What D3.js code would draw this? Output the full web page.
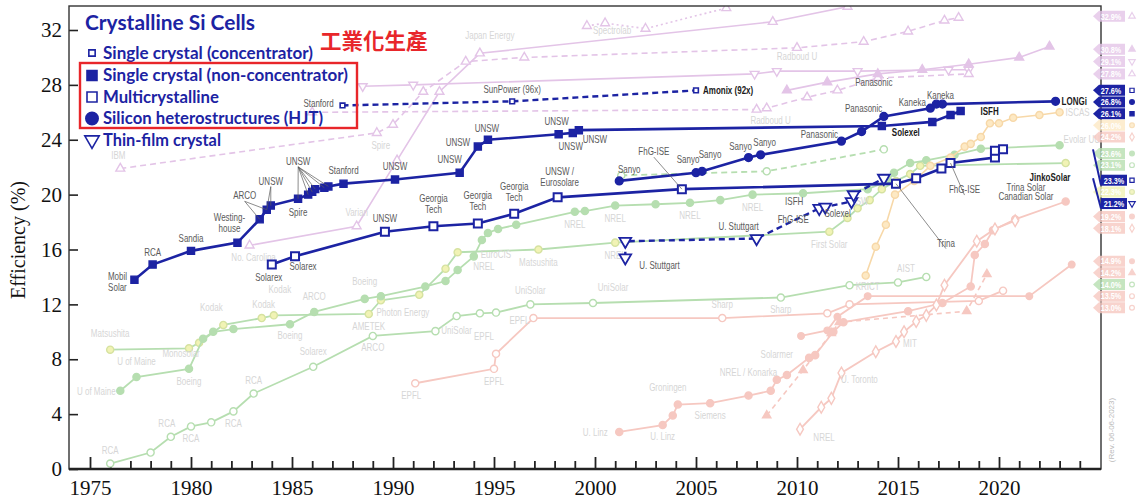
<!DOCTYPE html>
<html>
<head>
<meta charset="utf-8">
<script src="https://cdn.jsdelivr.net/npm/d3@7"></script>
<style>
  body { margin: 0; background: #fff; }
  svg { display: block; }
</style>
</head>
<body>
<svg id="chart" width="1137" height="503"></svg>
<script>
// ---------- data ----------
const yTicks = [0, 4, 8, 12, 16, 20, 24, 28, 32];
const yearTicks = d3.range(1975, 2025);
const yearLabels = [1975, 1980, 1985, 1990, 1995, 2000, 2005, 2010, 2015, 2020];

// crystalline Si, highlighted
const scConcYears = [1987.5, 1995.9, 2005.0];
const scConcEff = [26.5, 26.8, 27.6];
const scYears = [1977.2, 1978.1, 1980.0, 1982.3, 1983.4, 1983.75, 1983.95, 1985.3, 1985.8, 1986.0, 1986.15, 1986.6, 1986.8, 1987.55, 1990.1, 1993.3, 1994.2, 1994.7, 1998.2, 1998.9, 1999.2, 2014.2, 2016.7, 2017.6, 2018.1];
const scEff = [13.8, 14.9, 15.9, 16.5, 18.2, 18.9, 19.2, 19.7, 20.0, 20.2, 20.4, 20.5, 20.6, 20.8, 21.1, 21.6, 23.5, 24.0, 24.4, 24.5, 24.7, 25.0, 25.3, 25.8, 26.1];
const mcYears = [1984.0, 1985.15, 1989.6, 1992.0, 1994.2, 1996.0, 1998.15, 2004.3, 2014.9, 2015.9, 2017.15, 2017.6, 2019.8, 2019.8, 2020.2];
const mcEff = [14.9, 15.5, 17.3, 17.7, 17.9, 18.6, 19.8, 20.4, 20.8, 21.2, 21.9, 22.3, 22.7, 23.2, 23.3];
const hjtYears = [2001.2, 2005.0, 2005.3, 2007.6, 2008.2, 2012.2, 2013.2, 2014.3, 2016.6, 2016.9, 2017.2, 2022.8];
const hjtEff = [21.0, 21.6, 21.7, 22.7, 22.9, 23.9, 24.6, 25.7, 26.3, 26.6, 26.6, 26.8];
const tfYears = [2001.5, 2001.5, 2008.0, 2011.1, 2011.4, 2012.7, 2012.8, 2014.3];
const tfEff = [15.4, 16.6, 16.8, 19.0, 19.1, 19.5, 20.0, 21.2];

// faded background technologies
const aSiYears = [1976, 1978, 1979, 1980, 1981, 1982.1, 1983.1, 1986.05, 1989, 1992.1, 1993.15, 1994.3, 1995.1, 1996.8, 1999.9, 2009.2, 2012.6, 2015, 2016.4];
const aSiEff = [0.4, 1.2, 2.35, 3.1, 3.4, 4.2, 5.5, 7.45, 9.7, 10.05, 11.15, 11.35, 11.4, 12.0, 12.1, 12.5, 13.4, 13.6, 14.0];
const cigsYears = [1976.5, 1977.3, 1979.9, 1980.6, 1981.1, 1982.1, 1984.9, 1986.1, 1988.6, 1989.4, 1991.6, 1992.6, 1993.2, 1994.0, 1994.4, 1994.7, 1995.2, 1996.1, 1999.0, 1999.5, 2001.0, 2003.0, 2004.7, 2006.2, 2007.8, 2010.3, 2013.5, 2014.5, 2014.8, 2015.6, 2016.4, 2017.8, 2019.1, 2023.0];
const cigsEff = [5.7, 6.7, 7.3, 9.5, 10.0, 10.2, 10.55, 11.45, 12.4, 12.6, 13.3, 13.7, 14.5, 15.5, 16.7, 17.2, 17.5, 17.8, 18.75, 18.8, 19.2, 19.3, 19.4, 19.6, 20.0, 20.1, 20.4, 21.0, 21.6, 22.3, 22.5, 22.9, 23.35, 23.6];
const cdteYears = [1976, 1979.9, 1980.4, 1981.6, 1983.5, 1984.1, 1988.8, 1989.4, 1991.3, 1992.6, 1993.2, 1997.2, 2001.0, 2011.6, 2012.5, 2013.0, 2013.6, 2014.2, 2014.9, 2015.6, 2016.1, 2023.3];
const cdteEff = [8.7, 8.8, 9.2, 10.5, 11.0, 11.2, 11.3, 12.3, 12.7, 14.6, 15.8, 16.0, 16.5, 17.3, 18.3, 19.0, 19.6, 20.4, 21.0, 21.5, 22.1, 22.3];
const cigsConcYears = [2001.3, 2008.5, 2014.3];
const cigsConcEff = [21.4, 21.7, 23.3];
const perovYears = [2013.4, 2013.9, 2014.4, 2014.85, 2015.8, 2016.6, 2017.6, 2018.3, 2018.6, 2019.1, 2019.55, 2020.0, 2020.7, 2022.0, 2023.0];
const perovEff = [14.1, 16.2, 17.8, 20.0, 21.0, 22.1, 22.7, 23.5, 23.7, 24.2, 25.2, 25.2, 25.6, 25.8, 26.0];
const organicYears = [2001.2, 2003.35, 2003.85, 2004.1, 2005.7, 2007.6, 2008.7, 2009.0, 2009.5, 2010.6, 2010.9, 2011.8, 2012.3, 2015.5, 2017.2, 2018.6, 2018.8, 2019.3, 2019.7, 2020.8, 2023.3];
const organicEff = [2.7, 3.2, 3.9, 4.7, 4.8, 5.35, 5.7, 6.5, 6.85, 8.1, 8.3, 10.0, 10.7, 11.5, 12.1, 13.3, 15.6, 16.4, 17.4, 18.2, 19.5];
const qdYears = [2010.15, 2011.2, 2011.7, 2012.2, 2013.9, 2014.9, 2015.3, 2015.9, 2016.4, 2016.9, 2017.3, 2018.9, 2019.8, 2020.8];
const qdEff = [2.9, 4.5, 5.15, 7.0, 8.55, 9.3, 10.0, 10.75, 11.2, 11.95, 13.4, 16.6, 17.5, 18.1];
const dsscYears = [1991.1, 1995.0, 1995.1, 1996.95, 2006.3, 2011.5, 2012.6, 2019.0, 2020.2];
const dsscEff = [6.25, 7.3, 8.4, 11.0, 11.0, 11.35, 12.0, 12.25, 13.0];
const cztsYears = [2010.2, 2011.5, 2012.0, 2013.5, 2021.5, 2023.6];
const cztsEff = [9.7, 10.1, 11.1, 12.6, 12.6, 14.9];
const tandemOrgYears = [2008.5, 2010.3, 2011.7, 2012.1, 2018.4, 2019.4];
const tandemOrgEff = [3.9, 7.2, 9.9, 10.7, 11.5, 14.2];
const v1Years = [1982.9, 1988.2, 1990.2, 1992.3, 1994.3, 2008.8, 2012.5];
const v1Eff = [16.3, 17.7, 22.5, 27.5, 30.3, 32.6, 33.7];
const v2Years = [1976.5, 1989.2, 1990.0, 1991.5, 1993.6, 1996.5, 2010.0, 2013.3, 2015.5, 2017.3, 2018.0];
const v2Eff = [21.9, 24.5, 25.1, 27.5, 29.7, 30.0, 30.7, 31.15, 31.9, 32.7, 32.9];
const v3Years = [1988.5, 1991.0, 2007.9, 2009.0, 2013.0, 2017.5, 2018.5];
const v3Eff = [27.9, 28.0, 28.8, 29.0, 29.0, 29.1, 29.1];
const v4Years = [1986.0, 2008.0, 2008.5, 2010.5, 2012.0, 2014.0, 2018.5];
const v4Eff = [26.0, 26.2, 26.3, 27.1, 27.6, 28.5, 28.8];
const v5Years = [2009.5, 2011.5, 2014.0, 2016.2, 2018.5, 2021.0, 2022.5];
const v5Eff = [27.6, 28.2, 28.8, 29.1, 29.5, 30.0, 30.8];
const v6Years = [1999.6, 2000.5, 2002.5, 2006.5];
const v6Eff = [32.3, 32.5, 32.1, 33.6];

// right-hand record flags; slot = stacked position on the efficiency scale
const flagTexts = ["32.9%", "30.8%", "29.1%", "27.8%", "27.6%", "26.8%", "26.1%", "26.0%", "24.2%", "23.6%", "23.1%", "23.3%", "22.3%", "21.2%", "19.2%", "18.1%", "14.9%", "14.2%", "14.0%", "13.5%", "13.0%"];
const flagValues = [32.9, 30.8, 29.1, 27.8, 27.6, 26.8, 26.1, 26.0, 24.2, 23.6, 23.1, 23.3, 22.3, 21.2, 19.2, 18.1, 14.9, 14.2, 14.0, 13.5, 13.0];
const flagSlots = [33.0, 30.6, 29.7, 28.8, 27.6, 26.75, 25.9, 25.05, 24.2, 23.0, 22.15, 21.05, 20.2, 19.35, 18.4, 17.55, 15.15, 14.3, 13.45, 12.6, 11.75];
const flagKeys = ["v2", "v5", "v3", "v4", "conc", "hjt", "sc", "perov", "qd", "cigs", "cigsConc", "mc", "cdte", "tf", "organic", "qd", "czts", "tandemOrg", "aSi", "dssc", "dssc"];

// ---------- layout ----------
const blue = "#1c23a3";
const violet = "#e3c4e7", green = "#b6deb0", yellowF = "#f1f3b5", yellowS = "#d6e2a0";
const salmon = "#f6c8c1", orange = "#f7d8a8", orangeF = "#fde9c4";
const plot = { left: 69, right: 1101, top: 6, bottom: 469 };

const svg = d3.select("#chart");
const x = d3.scaleLinear().domain([1975, 2020]).range([90, 999]);
const y = d3.scaleLinear().domain([0, 32]).range([469, 30]);

svg.append("defs").append("clipPath").attr("id", "clip")
  .append("rect").attr("x", plot.left).attr("y", plot.top)
  .attr("width", plot.right - plot.left).attr("height", plot.bottom - plot.top);

const mk = (years, eff, o) => Object.assign({ years, eff }, o);
const series = {
  v1: mk(v1Years, v1Eff, { color: violet, sym: d3.symbolTriangle, size: 34, fill: "#fff", w: 1.6 }),
  v2: mk(v2Years, v2Eff, { color: violet, sym: d3.symbolTriangle, size: 34, fill: "#fff", w: 1.6, dash: "6,4" }),
  v3: mk(v3Years, v3Eff, { color: violet, sym: d3.symbolTriangle, rot: 180, size: 34, fill: "#fff", w: 1.6 }),
  v4: mk(v4Years, v4Eff, { color: violet, sym: d3.symbolTriangle, size: 34, fill: "#fff", w: 1.6, dash: "6,4" }),
  v5: mk(v5Years, v5Eff, { color: violet, sym: d3.symbolTriangle, size: 34, fill: violet, w: 1.6 }),
  v6: mk(v6Years, v6Eff, { color: violet, sym: d3.symbolTriangle, size: 34, fill: "#fff", w: 1.6, dash: "2,3" }),
  aSi: mk(aSiYears, aSiEff, { color: green, sym: d3.symbolCircle, size: 40, fill: "#fff", w: 1.8 }),
  cigs: mk(cigsYears, cigsEff, { color: green, sym: d3.symbolCircle, size: 40, fill: green, w: 1.8 }),
  cdte: mk(cdteYears, cdteEff, { color: yellowS, sym: d3.symbolCircle, size: 40, fill: yellowF, w: 1.8, line: green }),
  cigsConc: mk(cigsConcYears, cigsConcEff, { color: green, sym: d3.symbolCircle, size: 40, fill: "#fff", w: 1.8, dash: "6,4" }),
  perov: mk(perovYears, perovEff, { color: orange, sym: d3.symbolCircle, size: 40, fill: orangeF, w: 1.6 }),
  organic: mk(organicYears, organicEff, { color: salmon, sym: d3.symbolCircle, size: 40, fill: salmon, w: 1.8 }),
  qd: mk(qdYears, qdEff, { color: salmon, sym: d3.symbolDiamond, size: 40, fill: "#fff", w: 1.8 }),
  dssc: mk(dsscYears, dsscEff, { color: salmon, sym: d3.symbolCircle, size: 40, fill: "#fff", w: 1.8 }),
  czts: mk(cztsYears, cztsEff, { color: salmon, sym: d3.symbolCircle, size: 34, fill: salmon, w: 1.8 }),
  tandemOrg: mk(tandemOrgYears, tandemOrgEff, { color: salmon, sym: d3.symbolTriangle, size: 30, fill: salmon, w: 1.6, dash: "5,4" }),
  conc: mk(scConcYears, scConcEff, { color: blue, sym: d3.symbolSquare, size: 22, fill: "#fff", w: 2.4, mw: 1.6, dash: "6,4" }),
  tf: mk(tfYears, tfEff, { color: blue, sym: d3.symbolTriangle, rot: 180, size: 60, fill: "#fff", w: 2.4, mw: 1.8, dash: "6,4" }),
  mc: mk(mcYears, mcEff, { color: blue, sym: d3.symbolSquare, size: 64, fill: "#fff", w: 2.6, mw: 2 }),
  hjt: mk(hjtYears, hjtEff, { color: blue, sym: d3.symbolCircle, size: 48, fill: blue, w: 2.6 }),
  sc: mk(scYears, scEff, { color: blue, sym: d3.symbolSquare, size: 50, fill: blue, w: 2.6 })
};

// ---------- axes & frame ----------
const gx = svg.append("g").attr("transform", `translate(0,${plot.bottom})`);
gx.call(d3.axisBottom(x).tickValues(yearTicks.filter(t => t % 5)).tickSize(-8).tickFormat(""));
gx.call(g => g.select(".domain").remove());
const gx2 = svg.append("g").attr("transform", `translate(0,${plot.bottom})`)
  .call(d3.axisBottom(x).tickValues(yearTicks.filter(t => t % 5 === 0)).tickSize(-12).tickPadding(11)
    .tickFormat(d => yearLabels.includes(d) ? d : ""));
gx2.select(".domain").remove();
svg.selectAll("g.tick line").attr("stroke", "#222").attr("stroke-width", 1.8);

const gy = svg.append("g").attr("transform", `translate(${plot.left},0)`)
  .call(d3.axisLeft(y).tickValues(yTicks).tickSize(-9).tickPadding(7));
gy.select(".domain").remove();
gy.selectAll("line").attr("stroke", "#222").attr("stroke-width", 1.6);

svg.selectAll("g.tick text").attr("font-family", "'Liberation Serif', 'DejaVu Serif', serif")
  .attr("font-size", 21).attr("fill", "#111");

svg.append("text").attr("transform", "translate(25,240) rotate(-90)")
  .attr("text-anchor", "middle").attr("font-family", "'Liberation Serif', serif")
  .attr("font-size", 20).attr("fill", "#111").text("Efficiency (%)");

// ---------- series ----------
const plotG = svg.append("g").attr("clip-path", "url(#clip)");
const line = d3.line().x(d => x(d[0])).y(d => y(d[1]));

function drawSeries(s) {
  const pts = s.years.map((yr, i) => [yr, s.eff[i]]);
  plotG.append("path").attr("d", line(pts)).attr("fill", "none")
    .attr("stroke", s.line || s.color).attr("stroke-width", s.w)
    .attr("stroke-dasharray", s.dash || null);
  plotG.append("g").selectAll("path").data(pts).join("path")
    .attr("transform", d => `translate(${x(d[0])},${y(d[1])}) rotate(${s.rot || 0})`)
    .attr("d", d3.symbol(s.sym, s.size)())
    .attr("fill", s.fill).attr("stroke", s.color).attr("stroke-width", s.mw || 1.4);
}

// condensed look: labels are squeezed horizontally
const labelFont = "'Liberation Sans', Arial, sans-serif";
function annotate(s, notes, color) {
  const g = plotG.append("g").attr("font-family", labelFont).attr("font-size", 10).attr("fill", color);
  notes.forEach(([i, text, dx, dy, anchor, leaders, dark]) => {
    const px = x(s.years[i]), py = y(s.eff[i]);
    (leaders || []).forEach(j => {
      g.append("line").attr("x1", px + dx).attr("y1", py + dy + 2)
        .attr("x2", x(s.years[j])).attr("y2", y(s.eff[j]))
        .attr("stroke", color).attr("stroke-width", 0.7);
    });
    const t = g.append("text").attr("text-anchor", anchor || "middle")
      .attr("transform", `translate(${px + dx},${py + dy}) scale(0.8,1)`)
      .attr("fill", dark ? "#1a1a1a" : color).attr("font-weight", dark ? "bold" : null);
    text.split("|").forEach((ln, k) => {
      t.append("tspan").attr("x", 0).attr("y", k * 11).text(ln);
    });
  });
}

const bgOrder = ["v6", "v1", "v2", "v3", "v4", "v5", "dssc", "czts", "tandemOrg", "organic", "qd", "aSi", "cdte", "cigs", "cigsConc", "perov"];
bgOrder.forEach(k => drawSeries(series[k]));

const faded = "#d6d6d6";
annotate(series.aSi, [[0, "RCA", 0, -10], [2, "RCA", -4, -10], [3, "RCA", 0, 16], [5, "RCA", 0, 16], [6, "RCA", 0, -10],
  [7, "Solarex", 0, -12], [8, "ARCO", 0, 15], [10, "UniSolar", 0, 18], [13, "UniSolar", 0, -10], [14, "UniSolar", 20, -12],
  [15, "Sharp", 0, 15], [17, "AIST", 8, -10]], faded);
annotate(series.cdte, [[0, "Matsushita", 0, -13], [3, "Kodak", -12, -14], [4, "Kodak", 2, -10], [5, "Kodak", 6, -22],
  [6, "AMETEK", 0, 16], [7, "Photon Energy", 22, 16], [11, "Matsushita", 0, 16], [12, "NREL", 0, 16], [13, "First Solar", 0, 16]], faded);
annotate(series.cigs, [[0, "U of Maine", -24, 4], [1, "U of Maine", 0, -12], [2, "Boeing", 0, 16], [3, "Monosolar", -22, 18],
  [6, "Boeing", 0, 15], [7, "ARCO", 0, -12], [8, "Boeing", 0, -14], [13, "NREL", 10, 14], [14, "EuroCIS", 14, 18],
  [18, "NREL", 0, 16], [20, "NREL", 0, 16], [22, "NREL", 0, 16], [24, "NREL", 0, 16], [26, "ZSW", -8, 16], [33, "Evolar UU", 4, -2, "start"]], faded);
annotate(series.dssc, [[0, "EPFL", -4, 16], [1, "EPFL", 0, 16], [2, "EPFL", -12, -14], [3, "EPFL", -14, 6], [4, "Sharp", 0, -10]], faded);
annotate(series.organic, [[0, "U. Linz", -24, 4], [1, "U. Linz", 0, 15], [3, "Groningen", -10, -14], [4, "Siemens", 0, 16],
  [5, "NREL / Konarka", 0, -20], [7, "Solarmer", 0, -22]], faded);
annotate(series.qd, [[0, "NREL", 24, 12], [3, "U. Toronto", 18, 10], [5, "MIT", 14, 6]], faded);
annotate(series.v2, [[0, "IBM", -2, -10], [1, "Spire", 4, 16], [6, "Radboud U", 0, 12]], faded);
annotate(series.v1, [[0, "No. Carolina", 4, 16], [1, "Varian", 0, -10], [4, "Japan Energy", 10, -14]], faded);
annotate(series.v6, [[0, "Spectrolab", 6, 8, "start"]], faded);
annotate(series.v4, [[1, "Radboud U", 14, 14]], faded);
annotate(series.perov, [[0, "KRICT", 2, 14], [14, "ISCAS", 6, 4, "start"]], faded);

["conc", "tf", "mc", "hjt", "sc"].forEach(k => drawSeries(series[k]));

const dg = "#5a5a5a";
annotate(series.sc, [[0, "Mobil|Solar", -17, 0], [1, "RCA", 0, -9], [2, "Sandia", 0, -9], [3, "Westing-|house", -8, -22],
  [4, "ARCO", -15, -20, "middle", [4, 5]], [6, "UNSW", 0, -21, "middle", [5, 6]], [7, "Spire", 0, 17],
  [9, "UNSW", -14, -27, "middle", [7, 8, 9, 10, 11, 12]], [13, "Stanford", 0, -10], [14, "UNSW", 0, -10],
  [15, "UNSW", -10, -10], [16, "UNSW", -20, -1], [17, "UNSW", -1, -8], [18, "UNSW", -2, -9], [19, "UNSW", -2, 17],
  [20, "UNSW", 16, 13], [21, "Solexel", 24, 10, "middle", null, true], [24, "ISFH", 29, 4, "middle", null, true]], dg);
annotate(series.hjt, [[0, "Sanyo", 10, -8], [1, "Sanyo", -8, -10], [2, "Sanyo", 8, -13], [3, "Sanyo", -8, -8],
  [4, "Sanyo", 4, -9], [5, "Panasonic", -22, -3], [6, "Panasonic", 2, -20], [7, "Panasonic", -10, -30],
  [8, "Kaneka", -18, -2], [10, "Kaneka", -2, -5], [11, "LONGi", 6, 4, "start", null, true]], dg);
annotate(series.mc, [[0, "Solarex", -3, 16], [1, "Solarex", 8, 14], [2, "UNSW", 0, -10], [3, "Georgia|Tech", 0, -24],
  [4, "Georgia|Tech", 0, -24], [5, "Georgia|Tech", 0, -24], [6, "UNSW /|Eurosolare", 2, -22],
  [7, "FhG-ISE", -28, -34, "middle", [7]], [11, "FhG-ISE", 14, 30, "middle", [11]],
  [14, "JinkoSolar", 47, 32, "middle", null, true], [12, "Trina Solar", 31, 33], [12, "Canadian Solar", 31, 42],
  [8, "Trina", 50, 63, "middle", [8]]], dg);
annotate(series.conc, [[0, "Stanford", -24, 2], [1, "SunPower (96x)", 0, -8], [2, "Amonix (92x)", 7, 4, "start", null, true]], dg);
annotate(series.tf, [[0, "U. Stuttgart", 14, 11, "start"], [2, "U. Stuttgart", -18, -9], [3, "ISFH", -25, -3],
  [3, "FhG-ISE", -26, 15], [5, "Solexel", -14, 16]], dg);

// ---------- frame ----------
svg.append("rect").attr("x", plot.left).attr("y", plot.top).attr("width", plot.right - plot.left)
  .attr("height", plot.bottom - plot.top).attr("fill", "none").attr("stroke", "#333").attr("stroke-width", 1.4);
svg.append("line").attr("x1", plot.left).attr("x2", plot.right).attr("y1", plot.bottom).attr("y2", plot.bottom)
  .attr("stroke", "#222").attr("stroke-width", 2.6);

// ---------- record flags ----------
const flagG = svg.append("g").attr("font-family", labelFont).attr("font-size", 9).attr("font-weight", "bold");
flagTexts.forEach((txt, i) => {
  const s = series[flagKeys[i]];
  const dark = s.color === blue;
  const ys = y(flagSlots[i]);
  const fill = dark ? blue : (s.fill !== "#fff" ? s.fill : s.color);
  const op = dark ? 1 : 0.8;
  const lead = Math.abs(flagSlots[i] - flagValues[i]) > 1.2;
  if (lead && dark) {
    flagG.append("line").attr("x1", 1093).attr("y1", y(flagValues[i]))
      .attr("x2", 1101).attr("y2", ys + 5).attr("stroke", blue).attr("stroke-width", 2);
    flagG.append("rect").attr("x", 1101).attr("y", ys - 5.5).attr("width", 26).attr("height", 11).attr("fill", blue);
  } else {
    flagG.append("path").attr("d", `M1093,${ys} L1099,${ys - 5.5} L1125,${ys - 5.5} L1125,${ys + 5.5} L1099,${ys + 5.5} Z`)
      .attr("fill", fill).attr("opacity", op);
  }
  flagG.append("text").attr("transform", `translate(${lead && dark ? 1114 : 1111},${ys + 3.3}) scale(0.85,1)`)
    .attr("text-anchor", "middle").attr("fill", "#fff").attr("font-size", 8.5).text(txt);
  flagG.append("path").attr("transform", `translate(1132,${ys}) rotate(${s.rot || 0})`)
    .attr("d", d3.symbol(s.sym, 18)()).attr("fill", s.fill).attr("stroke", s.color)
    .attr("stroke-width", 1.2).attr("opacity", op);
});

svg.append("text").attr("transform", "translate(1114,430) rotate(-90)").attr("text-anchor", "middle")
  .attr("font-family", labelFont).attr("font-size", 8).attr("fill", "#bbb").text("(Rev. 06-06-2023)");

// ---------- legend ----------
const leg = svg.append("g").attr("font-family", "Lato, 'Open Sans', sans-serif").attr("font-weight", "bold").attr("fill", blue);
leg.append("text").attr("x", 85).attr("y", 30).attr("font-size", 20)
  .attr("textLength", 170).attr("lengthAdjust", "spacingAndGlyphs").text("Crystalline Si Cells");
const legendItems = [
  ["Single crystal (concentrator)", "conc", 53, 210],
  ["Single crystal (non-concentrator)", "sc", 75.5, 245],
  ["Multicrystalline", "mc", 97, 116],
  ["Silicon heterostructures (HJT)", "hjt", 118.5, 220],
  ["Thin-film crystal", "tf", 140, 118]
];
legendItems.forEach(([txt, key, ly, len]) => {
  const s = series[key];
  const size = key === "conc" ? 40 : key === "hjt" ? 120 : key === "tf" ? 90 : 100;
  leg.append("path").attr("transform", `translate(92,${ly}) rotate(${s.rot || 0})`)
    .attr("d", d3.symbol(s.sym, size)()).attr("fill", s.fill).attr("stroke", blue).attr("stroke-width", 1.6);
  leg.append("text").attr("x", 103).attr("y", ly + 5.5).attr("font-size", 16.5)
    .attr("textLength", len).attr("lengthAdjust", "spacingAndGlyphs").text(txt);
});
svg.append("rect").attr("x", 80).attr("y", 63).attr("width", 277).attr("height", 65)
  .attr("fill", "none").attr("stroke", "#e8262a").attr("stroke-width", 2.4);
svg.append("text").attr("x", 320).attr("y", 49).attr("font-family", "'Noto Sans CJK TC', 'Noto Sans CJK JP', sans-serif")
  .attr("font-size", 21.5).attr("font-weight", "bold").attr("fill", "#e8262a").text("工業化生產");
</script>
</body>
</html>
